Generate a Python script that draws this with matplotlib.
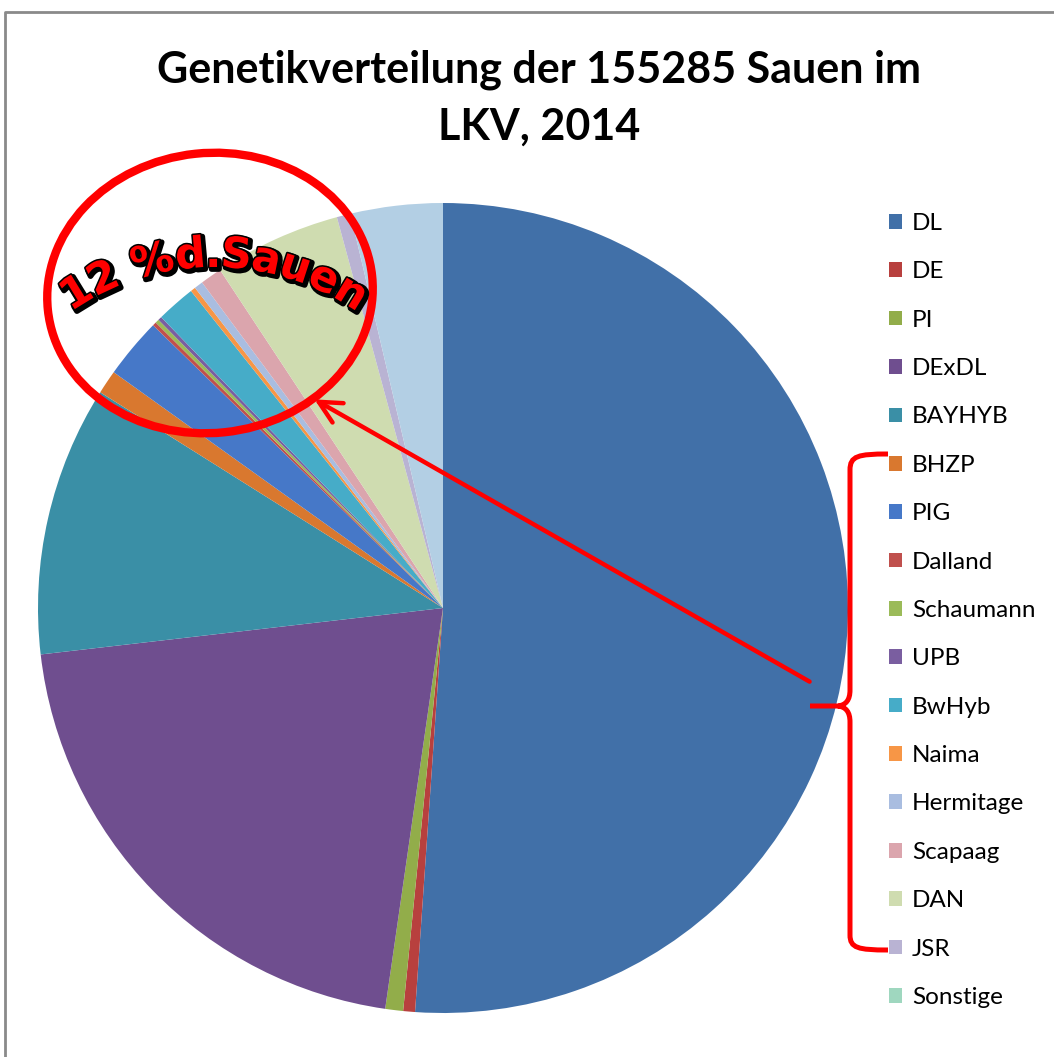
import numpy as np
import matplotlib
matplotlib.use("Agg")
import matplotlib.pyplot as plt
from matplotlib.patches import Patch, Ellipse, FancyArrowPatch, PathPatch
from matplotlib.path import Path
from matplotlib.textpath import TextPath
from matplotlib.font_manager import FontProperties
import matplotlib.patheffects as pe

# share of sows per genetics (%)
labels = ["DL", "DE", "PI", "DExDL", "BAYHYB", "BHZP", "PIG", "Dalland",
          "Schaumann", "UPB", "BwHyb", "Naima", "Hermitage", "Scapaag",
          "DAN", "JSR", "Sonstige"]
shares = [51.1, 0.47, 0.71, 20.89, 10.77, 0.95, 2.41, 0.15,
          0.15, 0.15, 1.56, 0.2, 0.35, 0.86, 5.06, 0.55, 3.67]
colors = ["#4170a8", "#b8403e", "#92ad4a", "#6f4e8f", "#3a8fa6", "#d9782f",
          "#4678c8", "#c0504d", "#9bbb59", "#7a5ea0", "#46acc8", "#f79646",
          "#a9bde0", "#dba5ad", "#cfdcb0", "#b9b3d3", "#b3cfe4"]
legend_colors = colors[:-1] + ["#9fd7bf"]

title = "Genetikverteilung der 155285 Sauen im\nLKV, 2014"
note = "12 %d.Sauen"

W, H = 1054, 1057
fig = plt.figure(figsize=(W / 100, H / 100), dpi=100)
fig.patch.set_facecolor("white")

# pie: center (443, 608), radius 405 px
ax = fig.add_axes([38 / W, (H - 1013) / H, 810 / W, 810 / H])
ax.pie(shares, colors=colors, startangle=90, counterclock=False,
       wedgeprops=dict(linewidth=0))
ax.set_xlim(-1, 1)
ax.set_ylim(-1, 1)

fig.text(539 / W, 1 - 98 / H, title, ha="center", va="center",
         fontsize=31, fontweight="bold", family="Lato", linespacing=1.5)

handles = [Patch(facecolor=c, edgecolor="none") for c in legend_colors]
fig.legend(handles, labels, loc="upper left",
           bbox_to_anchor=(889 / W, 1 - 213 / H), frameon=False,
           prop=FontProperties(family="Lato", size=17.5),
           handlelength=0.55, handleheight=0.55, handletextpad=0.4,
           labelspacing=1.126, borderpad=0, borderaxespad=0)

# overlay in pixel coords for the hand-drawn annotations
ov = fig.add_axes([0, 0, 1, 1])
ov.set_xlim(0, W)
ov.set_ylim(H, 0)
ov.axis("off")
ov.patch.set_alpha(0)

ov.plot([5, 5, W + 5], [H + 5, 12, 12], color="#8a8a8a", lw=2)

ov.add_patch(Ellipse((210, 293), 326, 280, angle=-6, fill=False,
                     edgecolor="#ff0000", lw=6))

ov.add_patch(FancyArrowPatch((812, 683), (312, 398),
                             arrowstyle="->,head_length=16,head_width=8",
                             color="#ff0000", lw=3.2, mutation_scale=1))

# curly brace
verts = [(888, 454), (858, 454), (850, 456), (850, 470),
         (850, 690),
         (850, 700), (846, 705), (838, 706),
         (810, 706),
         (838, 706), (846, 707), (850, 712), (850, 722),
         (850, 935),
         (850, 948), (858, 950), (888, 950)]
codes = [Path.MOVETO, Path.CURVE4, Path.CURVE4, Path.CURVE4,
         Path.LINETO,
         Path.CURVE4, Path.CURVE4, Path.CURVE4,
         Path.LINETO,
         Path.MOVETO, Path.CURVE4, Path.CURVE4, Path.CURVE4,
         Path.LINETO,
         Path.CURVE4, Path.CURVE4, Path.CURVE4]
ov.add_patch(PathPatch(Path(verts, codes), fill=False, edgecolor="#ff0000",
                       lw=3.6, capstyle="butt"))

# arched text
fp = FontProperties(family="DejaVu Sans", weight="bold")
fs_px = 43
widths = []
for ch in note:
    if ch == " ":
        widths.append(fs_px * 0.3)
    else:
        ext = TextPath((0, 0), ch, size=fs_px, prop=fp).get_extents()
        widths.append(ext.x1 + fs_px * 0.04)
gap = 0.5
total = sum(widths) + gap * (len(note) - 1)
R = 250
cx, cy = 214, 267 + R
s = -total / 2
for ch, w in zip(note, widths):
    mid = s + w / 2
    th = mid / R
    x = cx + R * np.sin(th)
    y = cy - R * np.cos(th)
    ov.text(x, y, ch, fontsize=fs_px * 0.72, fontproperties=fp,
            color="#ff0000", ha="center", va="baseline",
            rotation=-np.degrees(th), rotation_mode="anchor",
            path_effects=[pe.Stroke(linewidth=4, foreground="black",
                                    offset=(1.5, -1.5)),
                          pe.Stroke(linewidth=2.2, foreground="black"),
                          pe.Normal()])
    s += w + gap

fig.savefig("out.png", dpi=100)
